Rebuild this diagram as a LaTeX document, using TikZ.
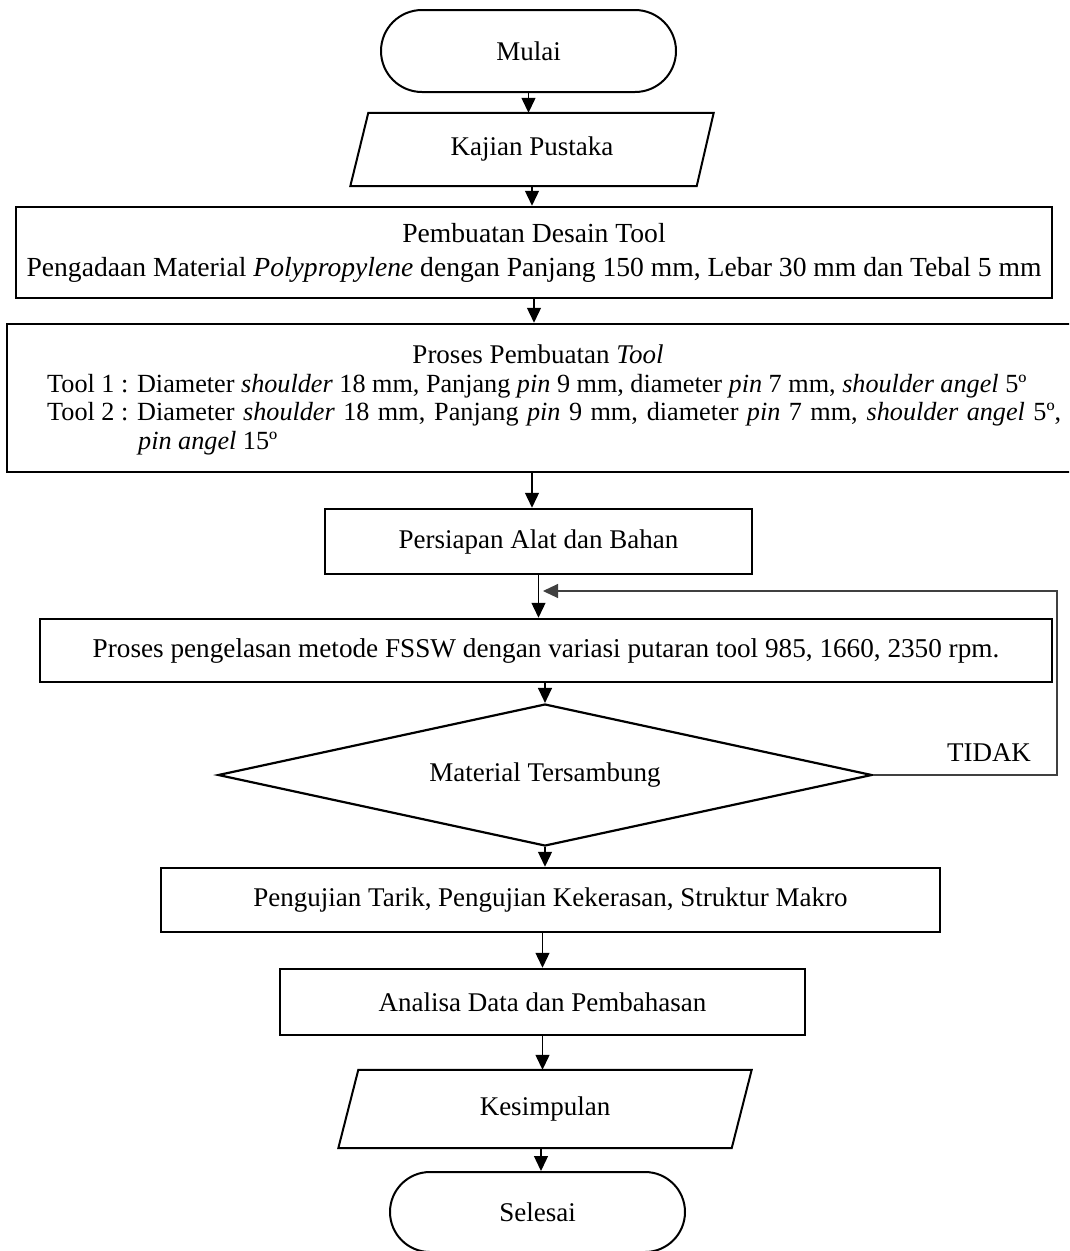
\documentclass[tikz,border=0pt]{standalone}
\usepackage{fontspec}
\setmainfont{Liberation Serif}
\usetikzlibrary{shapes.misc,shapes.geometric,arrows.meta,calc}
\begin{document}
\begin{tikzpicture}[x=1pt,y=-1pt,
  every node/.style={font=\fontsize{27}{34}\selectfont},
  box/.style={draw, line width=2.5pt, rectangle, inner sep=0pt, align=center},
  term/.style={draw, line width=2pt, rounded rectangle, inner sep=0pt, minimum width=295pt, minimum height=82pt},
  para/.style={inner sep=0pt, minimum height=73pt},
  pline/.style={line width=2pt, line join=miter},
  arr/.style={line width=1.3pt, -{Triangle[width=14pt,length=15pt]}},
  fb/.style={line width=1.1pt, draw=black!75, -{Triangle[width=14pt,length=15pt]}},
  txt/.style={inner sep=0pt, anchor=base west, font=\fontsize{26.2}{30}\selectfont},
]
\clip (0,0) rectangle (1069,1251);
\fill[white] (0,0) rectangle (1069,1251);

% Start
\node[term] (mulai) at (528.5,51) {Mulai};

% Kajian Pustaka (parallelogram)
\node[para, minimum width=345pt] (kaj) at (532,149.5) {Kajian Pustaka};
\draw[pline] ([xshift=9pt]kaj.north west) -- ([xshift=9pt]kaj.north east)
  -- ([xshift=-8pt]kaj.south east) -- ([xshift=-9pt]kaj.south west) -- cycle;

% Box 1
\node[box, minimum width=1036pt, minimum height=91pt, font=\fontsize{27.6}{34}\selectfont] (b1) at (534,252.5)
  {Pembuatan Desain Tool\\ Pengadaan Material \textit{Polypropylene} dengan Panjang 150 mm, Lebar 30 mm dan Tebal 5 mm};

% Box 2
\node[box, minimum width=1068pt, minimum height=148pt] (b2) at (541,398) {};
\node[inner sep=0pt, anchor=base] (b2t) at (538,363) {Proses Pembuatan \textit{Tool}};
\node[txt] (b2a) at (47,392) {Tool 1 : Diameter \textit{shoulder} 18 mm, Panjang \textit{pin} 9 mm, diameter \textit{pin} 7 mm, \textit{shoulder angel} 5º};
\node[txt] (b2bl) at (47,420) {Tool 2 :};
\node[txt] (b2b) at (137,420) {\makebox[924pt][s]{Diameter \textit{shoulder} 18 mm, Panjang \textit{pin} 9 mm, diameter \textit{pin} 7 mm, \textit{shoulder angel} 5º,}};
\node[txt] (b2c) at (138,449) {\textit{pin angel} 15º};

% Persiapan
\node[box, minimum width=427pt, minimum height=65pt] (pers) at (538.5,541.5) {Persiapan Alat dan Bahan};

% Box 3
\node[box, minimum width=1012pt, minimum height=63pt, font=\fontsize{27.2}{34}\selectfont] (b3) at (546,650.5)
  {Proses pengelasan metode FSSW dengan variasi putaran tool 985, 1660, 2350 rpm.};

% Decision
\node[draw, diamond, aspect=4.6, line width=2.2pt, inner sep=0pt, minimum width=654pt, minimum height=142pt] (dec) at (545,775) {Material Tersambung};
\node[inner sep=0pt] (tidak) at (989,753) {TIDAK};

% Box 4
\node[box, minimum width=779pt, minimum height=64pt] (b4) at (550.5,900)
  {Pengujian Tarik, Pengujian Kekerasan, Struktur Makro};

% Analisa
\node[box, minimum width=525pt, minimum height=66pt] (ana) at (542.5,1002) {Analisa Data dan Pembahasan};

% Kesimpulan (parallelogram)
\node[para, minimum width=393pt, minimum height=78pt] (kes) at (545,1109) {Kesimpulan};
\draw[pline] ([xshift=10pt]kes.north west) -- ([xshift=10pt]kes.north east)
  -- ([xshift=-10pt]kes.south east) -- ([xshift=-10pt]kes.south west) -- cycle;

% End
\node[term, minimum height=80pt] (sel) at (537.5,1212) {Selesai};

% Connectors
\draw[arr] (mulai.south) -- (mulai.south |- kaj.north);
\draw[arr] (kaj.south) -- (kaj.south |- b1.north);
\draw[arr] (b1.south) -- (b1.south |- b2.north);
\draw[arr] ([xshift=-9pt]b2.south) -- ([xshift=-9pt]b2.south |- pers.north);
\draw[arr] (pers.south) -- (pers.south |- b3.north);
\draw[arr] (dec.north |- b3.south) -- (dec.north);
\draw[arr] (dec.south) -- (dec.south |- b4.north);
\draw[arr] (ana.north |- b4.south) -- (ana.north);
\draw[arr] (ana.south) -- (ana.south |- kes.north);
\draw[arr] ([xshift=-4pt]kes.south) -- ([xshift=-4pt]kes.south |- sel.north);

% Feedback loop
\coordinate (fbr) at (1057,591);
\coordinate (fbin) at (543,591);
\draw[fb] (dec.east) -| (fbr) -- (fbin);
\end{tikzpicture}
\end{document}
